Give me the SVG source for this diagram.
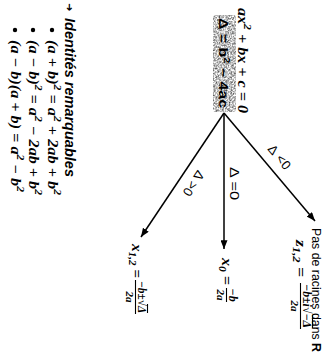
<svg xmlns="http://www.w3.org/2000/svg" width="330" height="356" viewBox="0 0 330 356">
<style>
.s{font-family:"Liberation Sans",Arial,sans-serif;fill:#000}
.m{font-family:"Liberation Serif","Times New Roman",serif;font-style:italic;fill:#000}
.b{font-weight:bold}
.edge{stroke:#000;stroke-width:1.5;fill:none}
.bar{stroke:#000;stroke-width:1.1}
</style>
<defs>
<marker id="ah" viewBox="0 0 10 8" refX="10" refY="4" markerWidth="9" markerHeight="7" markerUnits="userSpaceOnUse" orient="auto">
<path d="M0,0 L10,4 L0,8 z" fill="#000"/>
</marker>
<filter id="noise" x="0" y="0" width="100%" height="100%" color-interpolation-filters="sRGB">
<feTurbulence type="fractalNoise" baseFrequency="0.6" numOctaves="2" seed="4" result="n"/>
<feColorMatrix in="n" type="saturate" values="0" result="g"/>
<feComponentTransfer in="g" result="c">
<feFuncR type="linear" slope="1.7" intercept="-0.1"/>
<feFuncG type="linear" slope="1.7" intercept="-0.1"/>
<feFuncB type="linear" slope="1.7" intercept="-0.1"/>
<feFuncA type="linear" slope="0" intercept="1"/>
</feComponentTransfer>
<feComposite in="c" in2="SourceGraphic" operator="in"/>
</filter>
</defs>
<g transform="translate(330,0) rotate(90)">
<g id="connectors">
<line class="edge" x1="113" y1="106" x2="221" y2="15" marker-end="url(#ah)"/>
<line class="edge" x1="113" y1="106" x2="249" y2="106" marker-end="url(#ah)"/>
<line class="edge" x1="113" y1="106" x2="237" y2="189" marker-end="url(#ah)"/>
<text class="s" font-size="13" transform="translate(160,54) rotate(-40)" text-anchor="middle" textLength="28">Δ &lt;0</text>
<text class="s" font-size="13" x="167" y="100" textLength="33" lengthAdjust="spacingAndGlyphs">Δ =0</text>
<text class="s" font-size="13" transform="translate(181,140) rotate(34)" text-anchor="middle" textLength="28">Δ &gt;0</text>
</g>
<g id="node-root">
<text class="m b" font-size="14" x="8" y="92" textLength="105" lengthAdjust="spacingAndGlyphs">ax<tspan dy="-6" font-size="10">2</tspan><tspan dy="6"> + bx + c = 0</tspan></text>
</g>
<g id="node-delta">
<rect x="15" y="94" width="97" height="23" rx="3" fill="#bbb" filter="url(#noise)"/>
<text class="s b" font-size="13" x="18" y="111" textLength="90" lengthAdjust="spacingAndGlyphs">Δ = b<tspan dy="-5" font-size="9">2</tspan><tspan dy="5"> − 4ac</tspan></text>
</g>
<g id="node-pas">
<text class="s" font-size="13" x="228" y="18" textLength="124" lengthAdjust="spacingAndGlyphs">Pas de racines dans <tspan class="b">R</tspan></text>
</g>
<g id="node-z">
<text class="m b" font-size="14" x="240" y="34" textLength="37" lengthAdjust="spacingAndGlyphs">z<tspan font-size="10" dy="3">1,2</tspan><tspan dy="-3"> =</tspan></text>
<text class="m b" font-size="12" x="284" y="27" textLength="44" lengthAdjust="spacingAndGlyphs">−b±i√−Δ</text>
<line class="bar" x1="315" y1="17.5" x2="328" y2="17.5"/>
<line class="bar" x1="283" y1="29.5" x2="329" y2="29.5"/>
<text class="m b" font-size="11" x="306" y="39" text-anchor="middle">2a</text>
</g>
<g id="node-x0">
<text class="m b" font-size="14" x="258" y="108" textLength="27" lengthAdjust="spacingAndGlyphs">x<tspan font-size="10" dy="3">0</tspan><tspan dy="-3"> =</tspan></text>
<text class="m b" font-size="12" x="295" y="101" text-anchor="middle">−b</text>
<line class="bar" x1="288" y1="103.5" x2="302" y2="103.5"/>
<text class="m b" font-size="11" x="295" y="113" text-anchor="middle">2a</text>
</g>
<g id="node-x12">
<text class="m b" font-size="14" x="244" y="198" textLength="34" lengthAdjust="spacingAndGlyphs">x<tspan font-size="10" dy="3">1,2</tspan><tspan dy="-3"> =</tspan></text>
<text class="m b" font-size="12" x="281" y="192" textLength="32" lengthAdjust="spacingAndGlyphs">−b±√Δ</text>
<line class="bar" x1="304" y1="182.5" x2="313" y2="182.5"/>
<line class="bar" x1="280" y1="194.5" x2="314" y2="194.5"/>
<text class="m b" font-size="11" x="297" y="204" text-anchor="middle">2a</text>
</g>
<g id="node-identites">
<text font-family="DejaVu Sans,sans-serif" font-weight="bold" font-size="10" x="3" y="264">➜</text>
<text class="s b" font-style="italic" font-size="14" x="18" y="265" textLength="159" lengthAdjust="spacingAndGlyphs">Identités remarquables</text>
<circle cx="30" cy="278" r="2.2"/>
<circle cx="30" cy="297" r="2.2"/>
<circle cx="30" cy="315" r="2.2"/>
<text class="m b" font-size="14" x="40" y="282" textLength="155" lengthAdjust="spacingAndGlyphs">(a + b)<tspan dy="-6" font-size="10">2</tspan><tspan dy="6"> = a</tspan><tspan dy="-6" font-size="10">2</tspan><tspan dy="6"> + 2ab + b</tspan><tspan dy="-6" font-size="10">2</tspan></text>
<text class="m b" font-size="14" x="40" y="301" textLength="155" lengthAdjust="spacingAndGlyphs">(a − b)<tspan dy="-6" font-size="10">2</tspan><tspan dy="6"> = a</tspan><tspan dy="-6" font-size="10">2</tspan><tspan dy="6"> − 2ab + b</tspan><tspan dy="-6" font-size="10">2</tspan></text>
<text class="m b" font-size="14" x="40" y="319" textLength="152" lengthAdjust="spacingAndGlyphs">(a − b)(a + b) = a<tspan dy="-6" font-size="10">2</tspan><tspan dy="6"> − b</tspan><tspan dy="-6" font-size="10">2</tspan></text>
</g>
</g>
</svg>
